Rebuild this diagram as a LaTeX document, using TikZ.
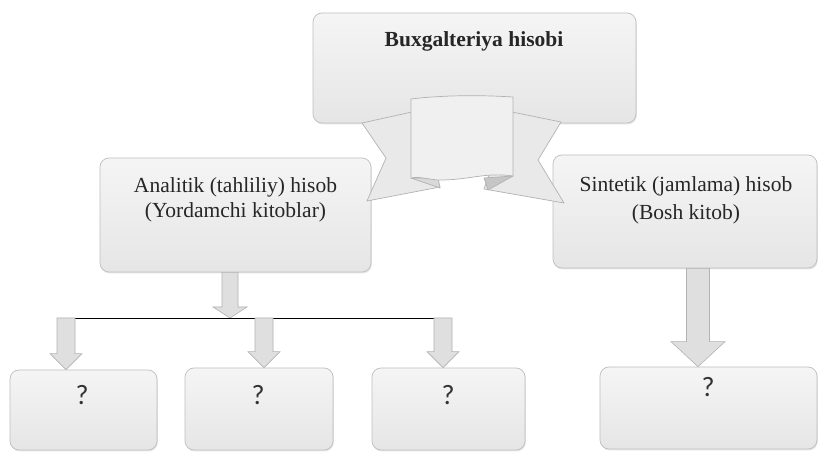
\documentclass[tikz,border=0pt]{standalone}
\usepackage{fontspec}
\setmainfont{Liberation Serif}
\newfontfamily\qfont{Carlito}
\usetikzlibrary{shadows,calc}
\newcommand{\downblock}[5]{%
  \draw[barrow] let \p1=(#1), \p2=(#2) in
    (\x1-#3,\y1) -- (\x1+#3,\y1) -- (\x1+#3,\y2+#5) -- (\x1+#4,\y2+#5)
    -- (\x1,\y2) -- (\x1-#4,\y2+#5) -- (\x1-#3,\y2+#5) -- cycle;}
\begin{document}
\begin{tikzpicture}[x=1pt,y=-1pt,
  box/.style={draw=gray!50, line width=0.7pt, rounded corners=9pt,
    top color=gray!8, bottom color=gray!20,
    drop shadow={shadow xshift=0.8pt, shadow yshift=-1.5pt, opacity=0.2},
    inner sep=0pt},
  lbl/.style={font=\fontsize{21.5}{25}\selectfont, align=center, inner sep=0pt, text=black!85},
  qm/.style={font=\qfont\fontsize{28}{30}\selectfont, text=black!80, inner sep=0pt, anchor=base},
  barrow/.style={draw=gray!60, fill=gray!25, line width=0.6pt, line join=miter},
  ribbon/.style={draw=gray!60, fill=gray!17, line width=0.7pt, line join=round},
]
\useasboundingbox (0,0) rectangle (820,454);
\fill[white] (0,0) rectangle (820,454);

% boxes
\node[box, minimum width=323pt, minimum height=110pt] (top) at (474.5,68) {};
\node[box, minimum width=271pt, minimum height=114pt] (ana) at (235.5,215) {};
\node[box, minimum width=264pt, minimum height=113pt] (sin) at (685,211.5) {};
\node[box, minimum width=147pt, minimum height=80pt] (q1) at (83.5,410) {};
\node[box, minimum width=148pt, minimum height=82pt] (q2) at (259,409) {};
\node[box, minimum width=153pt, minimum height=82pt] (q3) at (448.5,409) {};
\node[box, minimum width=217pt, minimum height=82pt] (q4) at (708.5,408) {};

% texts
\node[lbl, font=\bfseries\fontsize{21.5}{25}\selectfont, anchor=base] (topT) at (474,47) {Buxgalteriya hisobi};
\node[lbl] (anaT) at (235.5,200) {Analitik (tahliliy) hisob\\(Yordamchi kitoblar)};
\node[lbl, font=\fontsize{21.5}{28}\selectfont] (sinT) at (686,200.5) {Sintetik (jamlama) hisob\\(Bosh kitob)};
\node[qm] (q1t) at (82,405) {?};
\node[qm] (q2t) at (258,405) {?};
\node[qm] (q3t) at (448,405) {?};
\node[qm] (q4t) at (708,397) {?};

% bus and arrows
\coordinate (j0) at (230,318);
\coordinate (jL) at (57,318);
\coordinate (jR) at (452,318);
\coordinate (b1) at (66,318);
\coordinate (b2) at (264,318);
\coordinate (b3) at (443,318);
\coordinate (s4) at (698,0);

\downblock{ana.south -| j0}{j0}{8pt}{17pt}{11pt}
\draw[black, line width=0.9pt] (jL) -- (jR);
\downblock{b1}{b1 |- q1.north}{9pt}{16pt}{16pt}
\downblock{b2}{b2 |- q2.north}{9pt}{16pt}{16pt}
\downblock{b3}{b3 |- q3.north}{9pt}{16pt}{16pt}
\downblock{sin.south -| s4}{q4.north -| s4}{11.5pt}{27pt}{25pt}

% ribbon
\draw[ribbon] (362,123) -- (412,112) -- (440,187) -- (367,201) -- (386,158) -- cycle;
\draw[ribbon] (512,112) -- (561,122) -- (538,160) -- (564,203) -- (484,189) -- cycle;
\draw[ribbon, fill=gray!30] (411,178) -- (438,178) -- (440,188) -- cycle;
\draw[ribbon, fill=gray!45] (484,178) -- (513,176) -- (488,190) -- cycle;
\draw[ribbon, fill=gray!12] (411,99) .. controls (445,95) and (480,95) .. (513,97)
  -- (513,176) .. controls (485,172) and (470,180) .. (440,180)
  .. controls (430,180) and (420,176) .. (411,178) -- cycle;
\end{tikzpicture}
\end{document}
